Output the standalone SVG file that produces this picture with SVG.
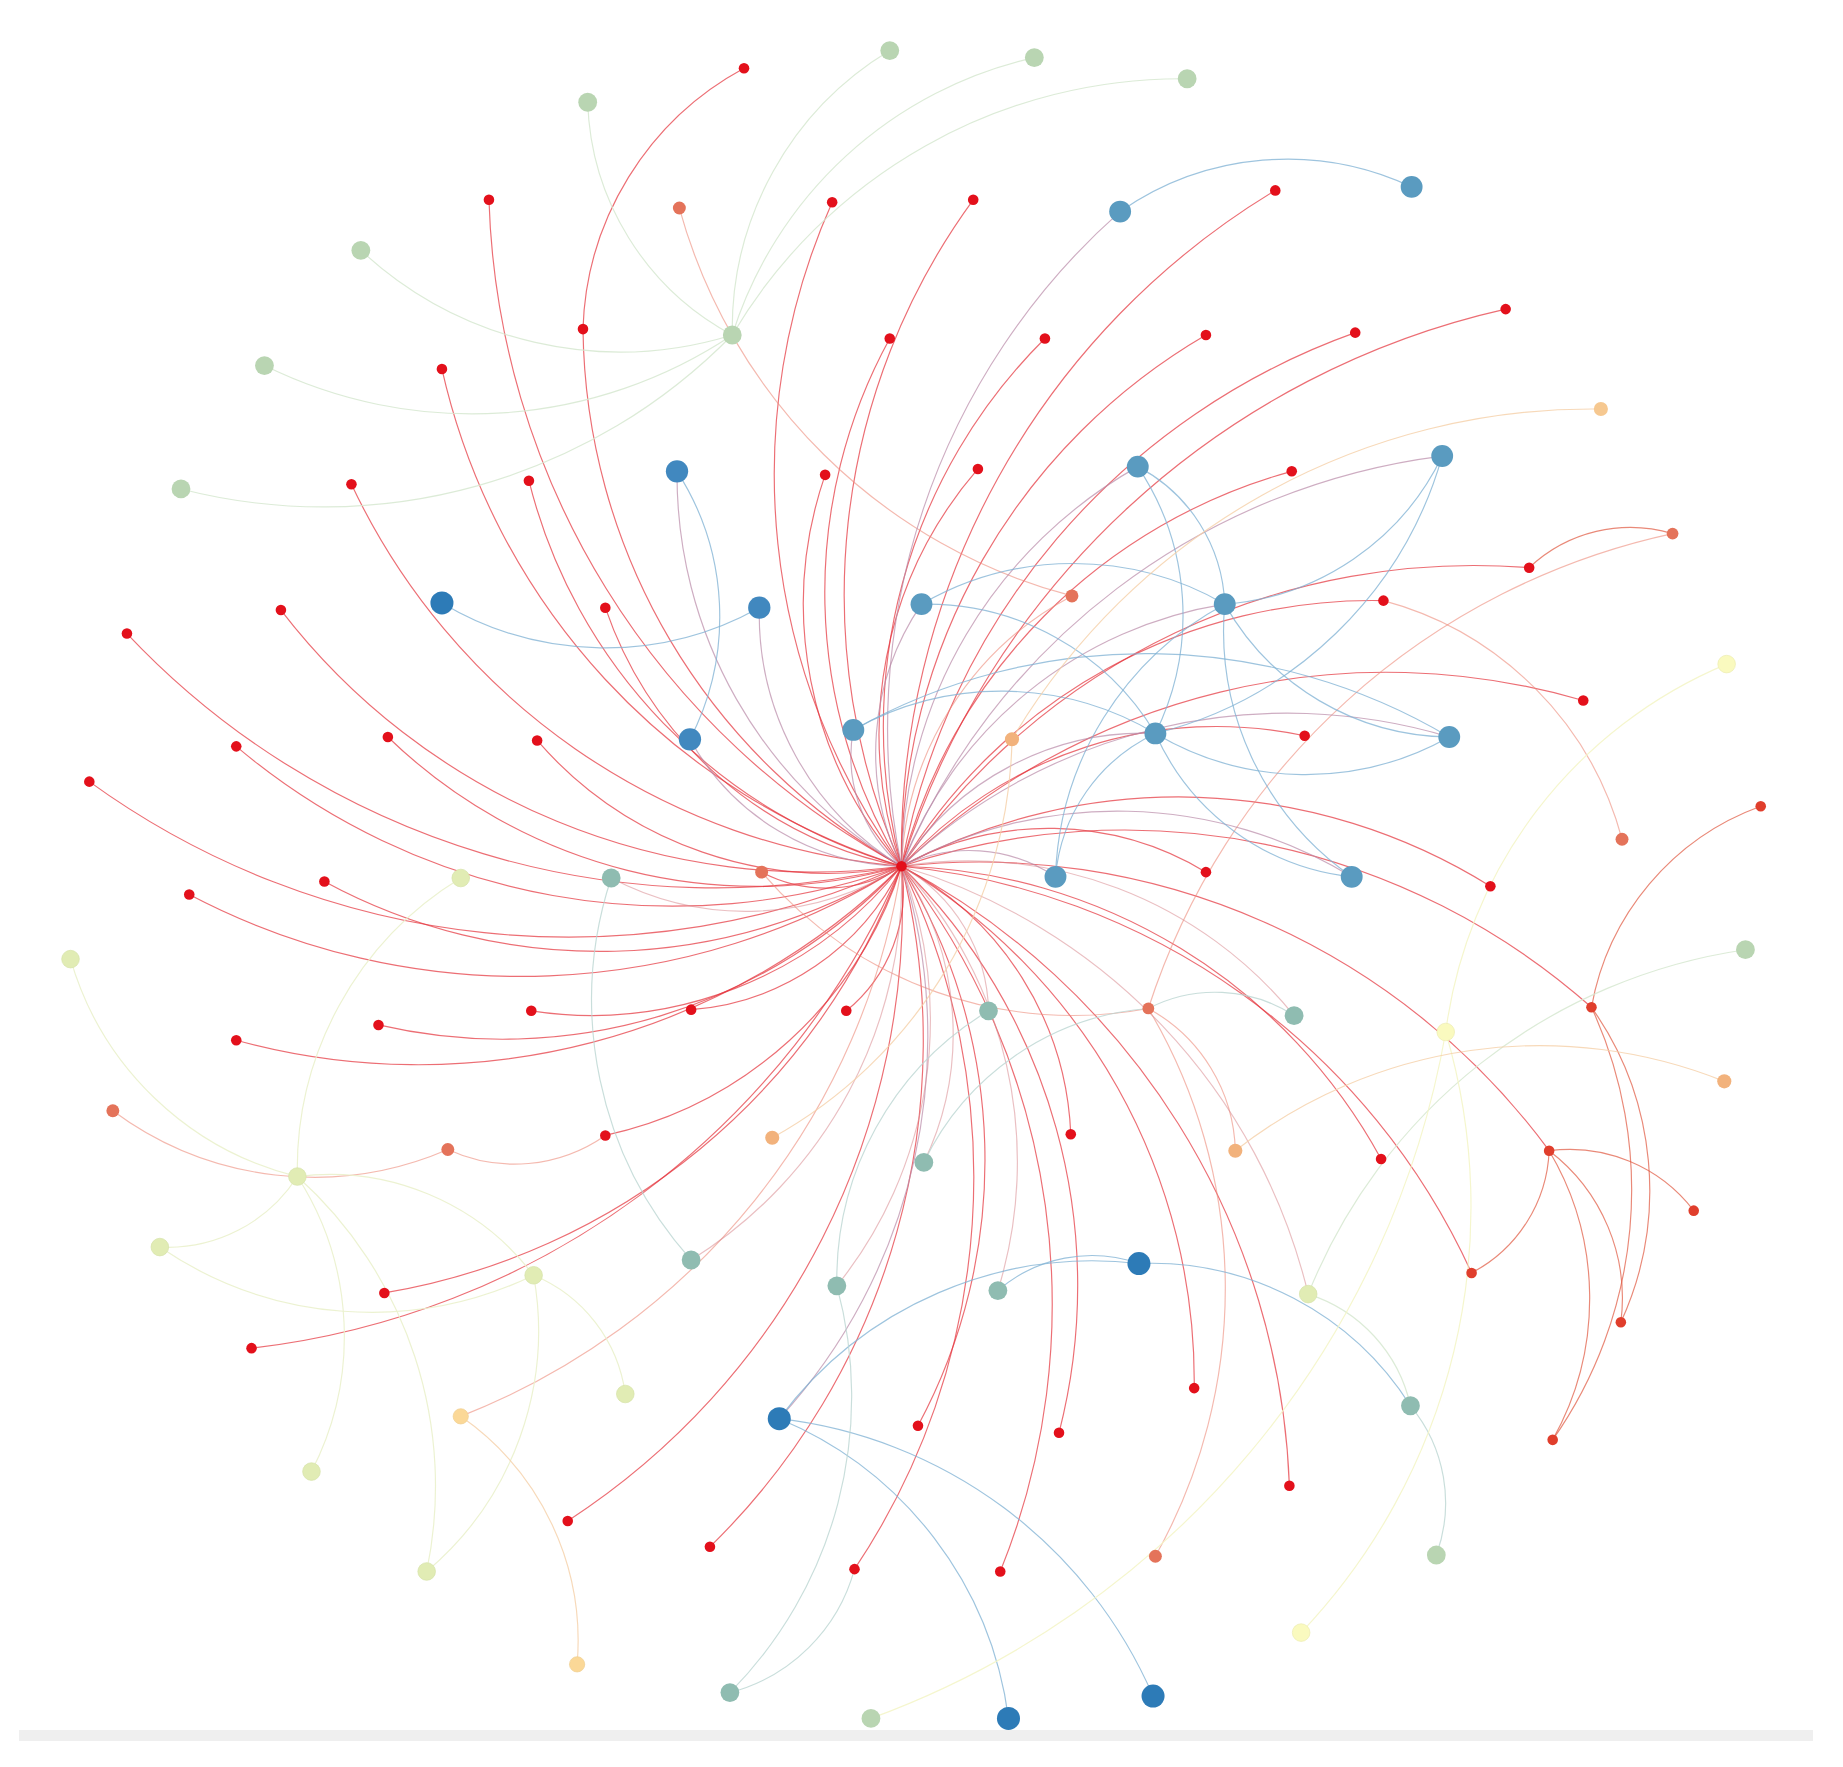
<svg xmlns="http://www.w3.org/2000/svg" width="1843" height="1767" viewBox="0 0 1843 1767">
<style>
.e path{fill:none;stroke-width:1;stroke-linecap:round}
.er{stroke:#e4363f;stroke-opacity:.72}
.et{stroke:#e0573e;stroke-opacity:.7}
.es{stroke:#ec8a7a;stroke-opacity:.6}
.em{stroke:#b98aa8;stroke-opacity:.7}
.ert{stroke:#d98a90;stroke-opacity:.55}
.eb{stroke:#7eb0d3;stroke-opacity:.75}
.etl{stroke:#bcd6d2;stroke-opacity:.8}
.eg{stroke:#d6e7d0;stroke-opacity:.85}
.eyg{stroke:#eaf1cc;stroke-opacity:.9}
.ey{stroke:#f4f5c8;stroke-opacity:.9}
.eo{stroke:#f5cfa8;stroke-opacity:.8}
.nr{fill:#e3101b}
.nt{fill:#e03e2c}
.ns{fill:#e4735a}
.no{fill:#f2b27c}
.nlo{fill:#f6c890}
.nyo{fill:#fbd897;stroke:#f0cf90;stroke-width:.6}
.nb{fill:#5a9bc0}
.nb2{fill:#4188bf}
.ndb{fill:#2d7bb7}
.ntl{fill:#8fbcb1}
.ng{fill:#b9d5b2}
.nyg{fill:#e1ecb4;stroke:#d6e2a8;stroke-width:.6}
.ny{fill:#fafabf;stroke:#ececb0;stroke-width:.6}
</style>
<rect x="0" y="0" width="1843" height="1767" fill="#ffffff"/>
<rect x="19" y="1730" width="1794" height="11" fill="#efefef"/>
<g transform="scale(1.17538)">
<g id="connectors" class="e">
<g class="er">
<path d="M767 737A667 667 0 0 1 416 170"/>
<path d="M767 737A568 568 0 0 1 708 172"/>
<path d="M767 737A570 570 0 0 1 828 170"/>
<path d="M767 737A657 657 0 0 1 1085 162"/>
<path d="M767 737A531 531 0 0 1 496 280"/>
<path d="M767 737A449 449 0 0 1 757 288"/>
<path d="M767 737A465 465 0 0 1 889 288"/>
<path d="M767 737A521 521 0 0 1 1026 285"/>
<path d="M767 737A596 596 0 0 1 1153 283"/>
<path d="M767 737A699 699 0 0 1 1281 263"/>
<path d="M767 737A576 576 0 0 1 376 314"/>
<path d="M767 737A570 570 0 0 1 299 412"/>
<path d="M767 737A456 456 0 0 1 450 409"/>
<path d="M767 737A339 339 0 0 1 702 404"/>
<path d="M767 737A344 344 0 0 1 832 399"/>
<path d="M767 737A472 472 0 0 1 1099 401"/>
<path d="M767 737A591 591 0 0 1 1301 483"/>
<path d="M767 737A468 468 0 0 1 1177 511"/>
<path d="M767 737A335 335 0 0 1 515 517"/>
<path d="M767 737A571 571 0 0 1 239 519"/>
<path d="M767 737A688 688 0 0 1 108 539"/>
<path d="M767 737A597 597 0 0 1 1347 596"/>
<path d="M767 737A361 361 0 0 1 1110 626"/>
<path d="M767 737A451 451 0 0 1 330 627"/>
<path d="M767 737A575 575 0 0 1 201 635"/>
<path d="M767 737A328 328 0 0 1 457 630"/>
<path d="M767 737A695 695 0 0 1 76 665"/>
<path d="M767 737A491 491 0 0 1 276 750"/>
<path d="M767 737A606 606 0 0 1 161 761"/>
<path d="M767 737A259 259 0 0 1 1026 742"/>
<path d="M767 737A501 501 0 0 1 1268 754"/>
<path d="M767 737A338 338 0 0 1 452 860"/>
<path d="M767 737A217 217 0 0 1 588 859"/>
<path d="M767 737A132 132 0 0 1 720 860"/>
<path d="M767 737A465 465 0 0 1 322 872"/>
<path d="M767 737A585 585 0 0 1 201 885"/>
<path d="M767 737A599 599 0 0 1 1354 857"/>
<path d="M767 737A341 341 0 0 1 515 966"/>
<path d="M767 737A270 270 0 0 1 911 965"/>
<path d="M767 737A478 478 0 0 1 1175 986"/>
<path d="M767 737A602 602 0 0 1 1318 979"/>
<path d="M767 737A596 596 0 0 1 1252 1083"/>
<path d="M767 737A570 570 0 0 1 327 1100"/>
<path d="M767 737A688 688 0 0 1 214 1147"/>
<path d="M767 737A509 509 0 0 1 1016 1181"/>
<path d="M767 737A476 476 0 0 1 781 1213"/>
<path d="M767 737A500 500 0 0 1 901 1219"/>
<path d="M767 737A622 622 0 0 1 1097 1264"/>
<path d="M767 737A625 625 0 0 1 483 1294"/>
<path d="M767 737A602 602 0 0 1 604 1316"/>
<path d="M767 737A599 599 0 0 1 727 1335"/>
<path d="M767 737A606 606 0 0 1 851 1337"/>
<path d="M496 280A261 261 0 0 1 633 58"/>
<path d="M767 737A119 119 0 0 1 648 742"/>
</g>
<g class="et">
<path d="M1301 483A125 125 0 0 1 1423 454"/>
<path d="M1354 857A224 224 0 0 1 1498 686"/>
<path d="M1318 979A133 133 0 0 1 1441 1030"/>
<path d="M1318 979A123 123 0 0 1 1252 1083"/>
<path d="M1318 979A158 158 0 0 1 1379 1125"/>
<path d="M1318 979A246 246 0 0 1 1321 1225"/>
<path d="M1354 857A269 269 0 0 1 1379 1125"/>
<path d="M1354 857A370 370 0 0 1 1321 1225"/>
</g>
<g class="es">
<path d="M977 858A602 602 0 0 1 1423 454"/>
<path d="M1177 511A287 287 0 0 1 1380 714"/>
<path d="M977 858A349 349 0 0 1 648 742"/>
<path d="M977 858A466 466 0 0 1 983 1324"/>
<path d="M977 858A142 142 0 0 1 1051 979"/>
<path d="M767 737A272 272 0 0 1 912 507"/>
<path d="M912 507A470 470 0 0 1 578 177"/>
<path d="M515 966A135 135 0 0 1 381 978"/>
<path d="M381 978A287 287 0 0 1 96 945"/>
<path d="M767 737A600 600 0 0 1 392 1205"/>
</g>
<g class="em">
<path d="M767 737A587 587 0 0 1 953 180"/>
<path d="M767 737A395 395 0 0 1 968 397"/>
<path d="M767 737A577 577 0 0 1 1227 388"/>
<path d="M767 737A386 386 0 0 1 576 401"/>
<path d="M767 737A251 251 0 0 1 646 517"/>
<path d="M767 737A224 224 0 0 1 784 514"/>
<path d="M767 737A354 354 0 0 1 1042 514"/>
<path d="M767 737A123 123 0 0 1 726 621"/>
<path d="M767 737A210 210 0 0 1 587 629"/>
<path d="M767 737A244 244 0 0 1 983 624"/>
<path d="M767 737A479 479 0 0 1 1233 627"/>
<path d="M767 737A131 131 0 0 1 898 746"/>
<path d="M767 737A383 383 0 0 1 1150 746"/>
<path d="M767 737A481 481 0 0 1 663 1207"/>
</g>
<g class="ert">
<path d="M767 737A247 247 0 0 1 520 747"/>
<path d="M767 737A144 144 0 0 1 841 860"/>
<path d="M767 737A357 357 0 0 1 1101 864"/>
<path d="M767 737A253 253 0 0 1 786 989"/>
<path d="M767 737A380 380 0 0 1 588 1072"/>
<path d="M767 737A361 361 0 0 1 712 1094"/>
<path d="M767 737A370 370 0 0 1 849 1098"/>
<path d="M767 737A502 502 0 0 1 1113 1101"/>
</g>
<g class="eb">
<path d="M953 180A249 249 0 0 1 1201 159"/>
<path d="M646 517A270 270 0 0 1 376 513"/>
<path d="M576 401A228 228 0 0 1 587 629"/>
<path d="M784 514A258 258 0 0 1 1042 514"/>
<path d="M784 514A227 227 0 0 1 983 624"/>
<path d="M726 621A257 257 0 0 1 983 624"/>
<path d="M726 621A507 507 0 0 1 1233 627"/>
<path d="M968 397A227 227 0 0 1 983 624"/>
<path d="M968 397A138 138 0 0 1 1042 514"/>
<path d="M1227 388A224 224 0 0 1 1042 514"/>
<path d="M1227 388A339 339 0 0 1 983 624"/>
<path d="M1233 627A222 222 0 0 1 1042 514"/>
<path d="M1233 627A250 250 0 0 1 983 624"/>
<path d="M1150 746A256 256 0 0 1 1042 514"/>
<path d="M1150 746A207 207 0 0 1 983 624"/>
<path d="M898 746A273 273 0 0 1 1042 514"/>
<path d="M898 746A149 149 0 0 1 983 624"/>
<path d="M663 1207A333 333 0 0 1 969 1075"/>
<path d="M663 1207A321 321 0 0 1 858 1462"/>
<path d="M663 1207A396 396 0 0 1 981 1443"/>
<path d="M969 1075A261 261 0 0 1 1200 1196"/>
<path d="M849 1098A122 122 0 0 1 969 1075"/>
</g>
<g class="etl">
<path d="M588 1072A332 332 0 0 1 520 747"/>
<path d="M712 1094A267 267 0 0 1 841 860"/>
<path d="M712 1094A358 358 0 0 1 621 1440"/>
<path d="M727 1335A149 149 0 0 1 621 1440"/>
<path d="M1200 1196A129 129 0 0 1 1222 1323"/>
<path d="M786 989A232 232 0 0 1 977 858"/>
<path d="M977 858A124 124 0 0 1 1101 864"/>
</g>
<g class="eg">
<path d="M623 285A277 277 0 0 1 757 43"/>
<path d="M623 285A349 349 0 0 1 880 49"/>
<path d="M623 285A444 444 0 0 1 1010 67"/>
<path d="M623 285A233 233 0 0 1 500 87"/>
<path d="M623 285A324 324 0 0 1 307 213"/>
<path d="M623 285A399 399 0 0 1 225 311"/>
<path d="M623 285A487 487 0 0 1 154 416"/>
<path d="M1113 1101A474 474 0 0 1 1485 808"/>
<path d="M1113 1101A129 129 0 0 1 1200 1196"/>
</g>
<g class="eyg">
<path d="M253 1001A131 131 0 0 1 136 1061"/>
<path d="M253 1001A251 251 0 0 1 265 1252"/>
<path d="M253 1001A354 354 0 0 1 363 1337"/>
<path d="M253 1001A267 267 0 0 1 60 816"/>
<path d="M253 1001A290 290 0 0 1 392 747"/>
<path d="M253 1001A218 218 0 0 1 454 1085"/>
<path d="M454 1085A319 319 0 0 1 136 1061"/>
<path d="M454 1085A268 268 0 0 1 363 1337"/>
<path d="M454 1085A128 128 0 0 1 532 1186"/>
</g>
<g class="ey">
<path d="M1230 878A394 394 0 0 1 1469 565"/>
<path d="M1230 878A526 526 0 0 1 1107 1389"/>
<path d="M1230 878A762 762 0 0 1 741 1462"/>
</g>
<g class="eo">
<path d="M1051 979A420 420 0 0 1 1467 920"/>
<path d="M861 629A574 574 0 0 1 1362 348"/>
<path d="M861 629A396 396 0 0 1 657 968"/>
<path d="M392 1205A233 233 0 0 1 491 1416"/>
</g>
</g>
<g id="nodes">
<g id="hub"><circle class="nr" cx="767" cy="737" r="4.5"/></g>
<g id="r1"><circle class="nr" cx="633" cy="58" r="4.5"/></g>
<g id="r2"><circle class="nr" cx="416" cy="170" r="4.5"/></g>
<g id="r3"><circle class="nr" cx="708" cy="172" r="4.5"/></g>
<g id="r4"><circle class="nr" cx="828" cy="170" r="4.5"/></g>
<g id="r5"><circle class="nr" cx="1085" cy="162" r="4.5"/></g>
<g id="r6"><circle class="nr" cx="496" cy="280" r="4.5"/></g>
<g id="r7"><circle class="nr" cx="757" cy="288" r="4.5"/></g>
<g id="r8"><circle class="nr" cx="889" cy="288" r="4.5"/></g>
<g id="r9"><circle class="nr" cx="1026" cy="285" r="4.5"/></g>
<g id="r10"><circle class="nr" cx="1153" cy="283" r="4.5"/></g>
<g id="r11"><circle class="nr" cx="1281" cy="263" r="4.5"/></g>
<g id="r12"><circle class="nr" cx="376" cy="314" r="4.5"/></g>
<g id="r13"><circle class="nr" cx="299" cy="412" r="4.5"/></g>
<g id="r14"><circle class="nr" cx="450" cy="409" r="4.5"/></g>
<g id="r15"><circle class="nr" cx="702" cy="404" r="4.5"/></g>
<g id="r16"><circle class="nr" cx="832" cy="399" r="4.5"/></g>
<g id="r17"><circle class="nr" cx="1099" cy="401" r="4.5"/></g>
<g id="r18"><circle class="nr" cx="1301" cy="483" r="4.5"/></g>
<g id="r19"><circle class="ns" cx="1423" cy="454" r="5"/></g>
<g id="r20"><circle class="nr" cx="1177" cy="511" r="4.5"/></g>
<g id="r21"><circle class="nr" cx="515" cy="517" r="4.5"/></g>
<g id="r22"><circle class="nr" cx="239" cy="519" r="4.5"/></g>
<g id="r23"><circle class="nr" cx="108" cy="539" r="4.5"/></g>
<g id="r24"><circle class="nr" cx="1347" cy="596" r="4.5"/></g>
<g id="r25"><circle class="nr" cx="1110" cy="626" r="4.5"/></g>
<g id="r26"><circle class="nr" cx="330" cy="627" r="4.5"/></g>
<g id="r27"><circle class="nr" cx="201" cy="635" r="4.5"/></g>
<g id="r28"><circle class="nr" cx="457" cy="630" r="4.5"/></g>
<g id="r29"><circle class="nr" cx="76" cy="665" r="4.5"/></g>
<g id="r30"><circle class="nr" cx="276" cy="750" r="4.5"/></g>
<g id="r31"><circle class="nr" cx="161" cy="761" r="4.5"/></g>
<g id="r32"><circle class="nr" cx="1026" cy="742" r="4.5"/></g>
<g id="r33"><circle class="nr" cx="1268" cy="754" r="4.5"/></g>
<g id="r34"><circle class="nt" cx="1498" cy="686" r="4.5"/></g>
<g id="r35"><circle class="nr" cx="452" cy="860" r="4.5"/></g>
<g id="r36"><circle class="nr" cx="588" cy="859" r="4.5"/></g>
<g id="r37"><circle class="nr" cx="720" cy="860" r="4.5"/></g>
<g id="r38"><circle class="nr" cx="322" cy="872" r="4.5"/></g>
<g id="r39"><circle class="nr" cx="201" cy="885" r="4.5"/></g>
<g id="r40"><circle class="ns" cx="977" cy="858" r="5"/></g>
<g id="r41"><circle class="nt" cx="1354" cy="857" r="4.5"/></g>
<g id="r42"><circle class="nr" cx="515" cy="966" r="4.5"/></g>
<g id="r43"><circle class="nr" cx="911" cy="965" r="4.5"/></g>
<g id="r44"><circle class="nr" cx="1175" cy="986" r="4.5"/></g>
<g id="r45"><circle class="nt" cx="1318" cy="979" r="4.5"/></g>
<g id="r46"><circle class="nt" cx="1441" cy="1030" r="4.5"/></g>
<g id="r47"><circle class="nt" cx="1252" cy="1083" r="4.5"/></g>
<g id="r48"><circle class="nr" cx="327" cy="1100" r="4.5"/></g>
<g id="r49"><circle class="nr" cx="214" cy="1147" r="4.5"/></g>
<g id="r50"><circle class="nt" cx="1379" cy="1125" r="4.5"/></g>
<g id="r51"><circle class="nr" cx="1016" cy="1181" r="4.5"/></g>
<g id="r52"><circle class="nr" cx="781" cy="1213" r="4.5"/></g>
<g id="r53"><circle class="nr" cx="901" cy="1219" r="4.5"/></g>
<g id="r54"><circle class="nt" cx="1321" cy="1225" r="4.5"/></g>
<g id="r55"><circle class="nr" cx="1097" cy="1264" r="4.5"/></g>
<g id="r56"><circle class="nr" cx="483" cy="1294" r="4.5"/></g>
<g id="r57"><circle class="nr" cx="604" cy="1316" r="4.5"/></g>
<g id="r58"><circle class="nr" cx="727" cy="1335" r="4.5"/></g>
<g id="r59"><circle class="nr" cx="851" cy="1337" r="4.5"/></g>
<g id="s578"><circle class="ns" cx="578" cy="177" r="5.5"/></g>
<g id="s912"><circle class="ns" cx="912" cy="507" r="5.5"/></g>
<g id="s648"><circle class="ns" cx="648" cy="742" r="5.5"/></g>
<g id="s96"><circle class="ns" cx="96" cy="945" r="5.5"/></g>
<g id="s381"><circle class="ns" cx="381" cy="978" r="5.5"/></g>
<g id="s1380"><circle class="ns" cx="1380" cy="714" r="5.5"/></g>
<g id="s983"><circle class="ns" cx="983" cy="1324" r="5.5"/></g>
<g id="o1051"><circle class="no" cx="1051" cy="979" r="6"/></g>
<g id="o1467"><circle class="no" cx="1467" cy="920" r="6"/></g>
<g id="o861"><circle class="no" cx="861" cy="629" r="6"/></g>
<g id="o657"><circle class="no" cx="657" cy="968" r="6"/></g>
<g id="o1362"><circle class="nlo" cx="1362" cy="348" r="6"/></g>
<g id="o392"><circle class="nyo" cx="392" cy="1205" r="6.5"/></g>
<g id="o491"><circle class="nyo" cx="491" cy="1416" r="6.5"/></g>
<g id="b1"><circle class="nb" cx="953" cy="180" r="9.3"/></g>
<g id="b2"><circle class="nb" cx="1201" cy="159" r="9.3"/></g>
<g id="b3"><circle class="nb" cx="968" cy="397" r="9.3"/></g>
<g id="b4"><circle class="nb" cx="1227" cy="388" r="9.3"/></g>
<g id="b5"><circle class="nb2" cx="576" cy="401" r="9.5"/></g>
<g id="b6"><circle class="ndb" cx="376" cy="513" r="9.8"/></g>
<g id="b7"><circle class="nb2" cx="646" cy="517" r="9.5"/></g>
<g id="b8"><circle class="nb" cx="784" cy="514" r="9.3"/></g>
<g id="b9"><circle class="nb" cx="1042" cy="514" r="9.3"/></g>
<g id="b10"><circle class="nb" cx="726" cy="621" r="9.3"/></g>
<g id="b11"><circle class="nb2" cx="587" cy="629" r="9.5"/></g>
<g id="b12"><circle class="nb" cx="983" cy="624" r="9.3"/></g>
<g id="b13"><circle class="nb" cx="1233" cy="627" r="9.3"/></g>
<g id="b14"><circle class="nb" cx="898" cy="746" r="9.3"/></g>
<g id="b15"><circle class="nb" cx="1150" cy="746" r="9.3"/></g>
<g id="b16"><circle class="ndb" cx="969" cy="1075" r="9.8"/></g>
<g id="b17"><circle class="ndb" cx="663" cy="1207" r="9.8"/></g>
<g id="b18"><circle class="ndb" cx="981" cy="1443" r="9.8"/></g>
<g id="b19"><circle class="ndb" cx="858" cy="1462" r="9.8"/></g>
<g id="t1"><circle class="ntl" cx="520" cy="747" r="8"/></g>
<g id="t2"><circle class="ntl" cx="841" cy="860" r="8"/></g>
<g id="t3"><circle class="ntl" cx="1101" cy="864" r="8"/></g>
<g id="t4"><circle class="ntl" cx="786" cy="989" r="8"/></g>
<g id="t5"><circle class="ntl" cx="588" cy="1072" r="8"/></g>
<g id="t6"><circle class="ntl" cx="712" cy="1094" r="8"/></g>
<g id="t7"><circle class="ntl" cx="849" cy="1098" r="8"/></g>
<g id="t8"><circle class="ntl" cx="1200" cy="1196" r="8"/></g>
<g id="t9"><circle class="ntl" cx="621" cy="1440" r="8"/></g>
<g id="g1"><circle class="ng" cx="623" cy="285" r="8"/></g>
<g id="g757"><circle class="ng" cx="757" cy="43" r="8"/></g>
<g id="g880"><circle class="ng" cx="880" cy="49" r="8"/></g>
<g id="g1010"><circle class="ng" cx="1010" cy="67" r="8"/></g>
<g id="g500"><circle class="ng" cx="500" cy="87" r="8"/></g>
<g id="g307"><circle class="ng" cx="307" cy="213" r="8"/></g>
<g id="g225"><circle class="ng" cx="225" cy="311" r="8"/></g>
<g id="g154"><circle class="ng" cx="154" cy="416" r="8"/></g>
<g id="g1485"><circle class="ng" cx="1485" cy="808" r="8"/></g>
<g id="g1222"><circle class="ng" cx="1222" cy="1323" r="8"/></g>
<g id="g741"><circle class="ng" cx="741" cy="1462" r="8"/></g>
<g id="yg392"><circle class="nyg" cx="392" cy="747" r="7.5"/></g>
<g id="yg60"><circle class="nyg" cx="60" cy="816" r="7.5"/></g>
<g id="yg253"><circle class="nyg" cx="253" cy="1001" r="7.5"/></g>
<g id="yg136"><circle class="nyg" cx="136" cy="1061" r="7.5"/></g>
<g id="yg454"><circle class="nyg" cx="454" cy="1085" r="7.5"/></g>
<g id="yg532"><circle class="nyg" cx="532" cy="1186" r="7.5"/></g>
<g id="yg265"><circle class="nyg" cx="265" cy="1252" r="7.5"/></g>
<g id="yg363"><circle class="nyg" cx="363" cy="1337" r="7.5"/></g>
<g id="yg1113"><circle class="nyg" cx="1113" cy="1101" r="7.5"/></g>
<g id="y1469"><circle class="ny" cx="1469" cy="565" r="7.5"/></g>
<g id="y1230"><circle class="ny" cx="1230" cy="878" r="7.5"/></g>
<g id="y1107"><circle class="ny" cx="1107" cy="1389" r="7.5"/></g>
</g>
</g>
</svg>
